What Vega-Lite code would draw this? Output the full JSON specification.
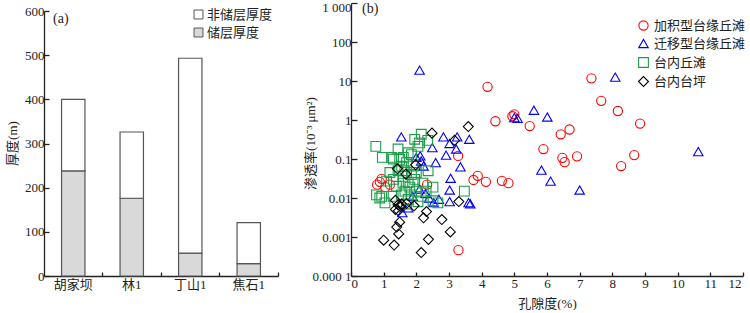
{
  "$schema": "https://vega.github.io/schema/vega-lite/v6.json",
  "padding": {"left": 6, "top": 1, "right": 0, "bottom": 0},
  "datasets": {
    "bars": [
      {"site": "胡家坝", "type": "储层厚度", "thickness": 238},
      {"site": "胡家坝", "type": "非储层厚度", "thickness": 162},
      {"site": "林1", "type": "储层厚度", "thickness": 176},
      {"site": "林1", "type": "非储层厚度", "thickness": 150},
      {"site": "丁山1", "type": "储层厚度", "thickness": 52},
      {"site": "丁山1", "type": "非储层厚度", "thickness": 441},
      {"site": "焦石1", "type": "储层厚度", "thickness": 28},
      {"site": "焦石1", "type": "非储层厚度", "thickness": 93}
    ],
    "pts": [
      {"group": "加积型台缘丘滩", "porosity": 3.28, "perm": 0.12},
      {"group": "加积型台缘丘滩", "porosity": 4.18, "perm": 7.1},
      {"group": "加积型台缘丘滩", "porosity": 4.42, "perm": 0.93},
      {"group": "加积型台缘丘滩", "porosity": 4.94, "perm": 1.25},
      {"group": "加积型台缘丘滩", "porosity": 5.0, "perm": 1.4},
      {"group": "加积型台缘丘滩", "porosity": 5.47, "perm": 0.7},
      {"group": "加积型台缘丘滩", "porosity": 5.89, "perm": 0.18},
      {"group": "加积型台缘丘滩", "porosity": 6.42, "perm": 0.43},
      {"group": "加积型台缘丘滩", "porosity": 6.69, "perm": 0.57},
      {"group": "加积型台缘丘滩", "porosity": 6.47, "perm": 0.107},
      {"group": "加积型台缘丘滩", "porosity": 6.54, "perm": 0.083},
      {"group": "加积型台缘丘滩", "porosity": 6.92, "perm": 0.117},
      {"group": "加积型台缘丘滩", "porosity": 7.36, "perm": 11.7},
      {"group": "加积型台缘丘滩", "porosity": 7.66, "perm": 3.1},
      {"group": "加积型台缘丘滩", "porosity": 8.17, "perm": 1.7},
      {"group": "加积型台缘丘滩", "porosity": 8.85, "perm": 0.81},
      {"group": "加积型台缘丘滩", "porosity": 8.67, "perm": 0.126},
      {"group": "加积型台缘丘滩", "porosity": 8.27, "perm": 0.066},
      {"group": "加积型台缘丘滩", "porosity": 3.88, "perm": 0.037},
      {"group": "加积型台缘丘滩", "porosity": 3.75, "perm": 0.029},
      {"group": "加积型台缘丘滩", "porosity": 4.13, "perm": 0.026},
      {"group": "加积型台缘丘滩", "porosity": 4.62, "perm": 0.0275},
      {"group": "加积型台缘丘滩", "porosity": 4.82, "perm": 0.024},
      {"group": "加积型台缘丘滩", "porosity": 3.29, "perm": 0.00046},
      {"group": "加积型台缘丘滩", "porosity": 0.8, "perm": 0.022},
      {"group": "加积型台缘丘滩", "porosity": 0.88, "perm": 0.026},
      {"group": "加积型台缘丘滩", "porosity": 0.94, "perm": 0.031},
      {"group": "加积型台缘丘滩", "porosity": 1.19, "perm": 0.022},
      {"group": "加积型台缘丘滩", "porosity": 2.33, "perm": 0.022},
      {"group": "加积型台缘丘滩", "porosity": 1.05, "perm": 0.019},
      {"group": "迁移型台缘丘滩", "porosity": 2.1, "perm": 19},
      {"group": "迁移型台缘丘滩", "porosity": 5.6, "perm": 1.78},
      {"group": "迁移型台缘丘滩", "porosity": 6.01, "perm": 1.19},
      {"group": "迁移型台缘丘滩", "porosity": 5.0, "perm": 1.15},
      {"group": "迁移型台缘丘滩", "porosity": 5.1, "perm": 1.1},
      {"group": "迁移型台缘丘滩", "porosity": 8.09, "perm": 12.6},
      {"group": "迁移型台缘丘滩", "porosity": 10.63, "perm": 0.155},
      {"group": "迁移型台缘丘滩", "porosity": 1.54, "perm": 0.37},
      {"group": "迁移型台缘丘滩", "porosity": 2.83, "perm": 0.37},
      {"group": "迁移型台缘丘滩", "porosity": 3.25, "perm": 0.37},
      {"group": "迁移型台缘丘滩", "porosity": 3.62, "perm": 0.32},
      {"group": "迁移型台缘丘滩", "porosity": 3.02, "perm": 0.25},
      {"group": "迁移型台缘丘滩", "porosity": 2.49, "perm": 0.195},
      {"group": "迁移型台缘丘滩", "porosity": 3.22, "perm": 0.18},
      {"group": "迁移型台缘丘滩", "porosity": 2.91, "perm": 0.126},
      {"group": "迁移型台缘丘滩", "porosity": 2.12, "perm": 0.12},
      {"group": "迁移型台缘丘滩", "porosity": 2.59, "perm": 0.081},
      {"group": "迁移型台缘丘滩", "porosity": 3.35, "perm": 0.063},
      {"group": "迁移型台缘丘滩", "porosity": 2.15, "perm": 0.089},
      {"group": "迁移型台缘丘滩", "porosity": 2.22, "perm": 0.066},
      {"group": "迁移型台缘丘滩", "porosity": 3.05, "perm": 0.032},
      {"group": "迁移型台缘丘滩", "porosity": 3.02, "perm": 0.016},
      {"group": "迁移型台缘丘滩", "porosity": 2.69, "perm": 0.0093},
      {"group": "迁移型台缘丘滩", "porosity": 3.02, "perm": 0.0081},
      {"group": "迁移型台缘丘滩", "porosity": 3.6, "perm": 0.0076},
      {"group": "迁移型台缘丘滩", "porosity": 3.65, "perm": 0.0071},
      {"group": "迁移型台缘丘滩", "porosity": 2.39, "perm": 0.01},
      {"group": "迁移型台缘丘滩", "porosity": 2.53, "perm": 0.0076},
      {"group": "迁移型台缘丘滩", "porosity": 5.83, "perm": 0.052},
      {"group": "迁移型台缘丘滩", "porosity": 6.11, "perm": 0.027},
      {"group": "迁移型台缘丘滩", "porosity": 7.0, "perm": 0.016},
      {"group": "迁移型台缘丘滩", "porosity": 1.57, "perm": 0.0042},
      {"group": "迁移型台缘丘滩", "porosity": 1.75, "perm": 0.0056},
      {"group": "迁移型台缘丘滩", "porosity": 2.1, "perm": 0.017},
      {"group": "迁移型台缘丘滩", "porosity": 2.28, "perm": 0.013},
      {"group": "迁移型台缘丘滩", "porosity": 1.89, "perm": 0.011},
      {"group": "迁移型台缘丘滩", "porosity": 2.0, "perm": 0.11},
      {"group": "台内丘滩", "porosity": 0.76, "perm": 0.21},
      {"group": "台内丘滩", "porosity": 0.96, "perm": 0.11},
      {"group": "台内丘滩", "porosity": 1.24, "perm": 0.11},
      {"group": "台内丘滩", "porosity": 1.44, "perm": 0.18},
      {"group": "台内丘滩", "porosity": 1.75, "perm": 0.145},
      {"group": "台内丘滩", "porosity": 1.95, "perm": 0.32},
      {"group": "台内丘滩", "porosity": 2.15, "perm": 0.43},
      {"group": "台内丘滩", "porosity": 2.35, "perm": 0.3},
      {"group": "台内丘滩", "porosity": 2.1, "perm": 0.26},
      {"group": "台内丘滩", "porosity": 1.49, "perm": 0.098},
      {"group": "台内丘滩", "porosity": 1.7, "perm": 0.081},
      {"group": "台内丘滩", "porosity": 1.9, "perm": 0.066},
      {"group": "台内丘滩", "porosity": 1.19, "perm": 0.045},
      {"group": "台内丘滩", "porosity": 1.09, "perm": 0.027},
      {"group": "台内丘滩", "porosity": 0.78, "perm": 0.012},
      {"group": "台内丘滩", "porosity": 0.94, "perm": 0.011},
      {"group": "台内丘滩", "porosity": 1.04, "perm": 0.0075},
      {"group": "台内丘滩", "porosity": 1.39, "perm": 0.02},
      {"group": "台内丘滩", "porosity": 1.59, "perm": 0.024},
      {"group": "台内丘滩", "porosity": 1.8, "perm": 0.019},
      {"group": "台内丘滩", "porosity": 2.0, "perm": 0.015},
      {"group": "台内丘滩", "porosity": 2.15, "perm": 0.011},
      {"group": "台内丘滩", "porosity": 2.51, "perm": 0.019},
      {"group": "台内丘滩", "porosity": 2.66, "perm": 0.0075},
      {"group": "台内丘滩", "porosity": 2.51, "perm": 0.0085},
      {"group": "台内丘滩", "porosity": 3.47, "perm": 0.015},
      {"group": "台内丘滩", "porosity": 1.29, "perm": 0.011},
      {"group": "台内丘滩", "porosity": 1.54, "perm": 0.012},
      {"group": "台内丘滩", "porosity": 1.75, "perm": 0.0093},
      {"group": "台内丘滩", "porosity": 1.95, "perm": 0.03},
      {"group": "台内丘滩", "porosity": 1.59, "perm": 0.036},
      {"group": "台内丘滩", "porosity": 1.44, "perm": 0.05},
      {"group": "台内丘滩", "porosity": 1.85, "perm": 0.04},
      {"group": "台内丘滩", "porosity": 2.2, "perm": 0.024},
      {"group": "台内丘滩", "porosity": 2.36, "perm": 0.05},
      {"group": "台内丘滩", "porosity": 0.88, "perm": 0.01},
      {"group": "台内丘滩", "porosity": 1.3, "perm": 0.1},
      {"group": "台内丘滩", "porosity": 1.6, "perm": 0.11},
      {"group": "台内丘滩", "porosity": 1.85, "perm": 0.13},
      {"group": "台内丘滩", "porosity": 2.05, "perm": 0.21},
      {"group": "台内丘滩", "porosity": 1.65, "perm": 0.015},
      {"group": "台内丘滩", "porosity": 1.75, "perm": 0.025},
      {"group": "台内丘滩", "porosity": 1.85, "perm": 0.012},
      {"group": "台内丘滩", "porosity": 2.0, "perm": 0.045},
      {"group": "台内丘滩", "porosity": 1.55, "perm": 0.065},
      {"group": "台内丘滩", "porosity": 1.3, "perm": 0.03},
      {"group": "台内丘滩", "porosity": 1.65, "perm": 0.05},
      {"group": "台内丘滩", "porosity": 2.3, "perm": 0.015},
      {"group": "台内丘滩", "porosity": 1.7, "perm": 0.007},
      {"group": "台内丘滩", "porosity": 2.05, "perm": 0.008},
      {"group": "台内台坪", "porosity": 2.48, "perm": 0.46},
      {"group": "台内台坪", "porosity": 3.17, "perm": 0.3},
      {"group": "台内台坪", "porosity": 3.59, "perm": 0.68},
      {"group": "台内台坪", "porosity": 1.42, "perm": 0.056},
      {"group": "台内台坪", "porosity": 1.68, "perm": 0.041},
      {"group": "台内台坪", "porosity": 1.98, "perm": 0.071},
      {"group": "台内台坪", "porosity": 1.36, "perm": 0.0087},
      {"group": "台内台坪", "porosity": 1.44, "perm": 0.0067},
      {"group": "台内台坪", "porosity": 1.55, "perm": 0.007},
      {"group": "台内台坪", "porosity": 1.36, "perm": 0.0051},
      {"group": "台内台坪", "porosity": 1.7, "perm": 0.0072},
      {"group": "台内台坪", "porosity": 1.93, "perm": 0.0063},
      {"group": "台内台坪", "porosity": 2.31, "perm": 0.0045},
      {"group": "台内台坪", "porosity": 2.22, "perm": 0.0031},
      {"group": "台内台坪", "porosity": 2.78, "perm": 0.0028},
      {"group": "台内台坪", "porosity": 3.04, "perm": 0.00135},
      {"group": "台内台坪", "porosity": 2.37, "perm": 0.00087},
      {"group": "台内台坪", "porosity": 2.15, "perm": 0.0004},
      {"group": "台内台坪", "porosity": 1.0, "perm": 0.00083},
      {"group": "台内台坪", "porosity": 1.32, "perm": 0.00062},
      {"group": "台内台坪", "porosity": 1.46, "perm": 0.0012},
      {"group": "台内台坪", "porosity": 1.49, "perm": 0.0024},
      {"group": "台内台坪", "porosity": 1.4, "perm": 0.0018},
      {"group": "台内台坪", "porosity": 3.3, "perm": 0.0081},
      {"group": "台内台坪", "porosity": 1.45, "perm": 0.0047},
      {"group": "台内台坪", "porosity": 1.52, "perm": 0.006}
    ]
  },
  "config": {
    "view": {"stroke": null},
    "axis": {
      "labelFont": "Liberation Serif",
      "labelFontSize": 13,
      "labelColor": "#222",
      "titleFont": "Liberation Serif, Noto Sans CJK SC",
      "titleFontSize": 13,
      "titleFontWeight": "normal",
      "titleColor": "#222",
      "domainColor": "#222",
      "tickColor": "#222",
      "domainWidth": 1.3,
      "tickWidth": 1.3,
      "grid": false
    },
    "legend": {
      "labelFont": "Noto Sans CJK SC",
      "labelFontSize": 13,
      "labelColor": "#222"
    }
  },
  "resolve": {
    "scale": {"color": "independent", "shape": "independent", "size": "independent"},
    "legend": {"color": "independent", "shape": "independent", "size": "independent"}
  },
  "spacing": 25,
  "hconcat": [
    {
      "width": 234,
      "height": 273,
      "data": {"name": "bars"},
      "title": {"text": "(a)", "anchor": "start", "frame": "group", "offset": -23, "dx": 9, "font": "Liberation Serif", "fontSize": 14, "fontWeight": "normal", "color": "#222"},
      "mark": {"type": "bar", "stroke": "#555", "strokeWidth": 1.2},
      "encoding": {
        "x": {
          "field": "site", "type": "nominal",
          "sort": ["胡家坝", "林1", "丁山1", "焦石1"],
          "scale": {"paddingInner": 0.6, "paddingOuter": 0.3},
          "axis": {"title": null, "labelAngle": 0, "bandPosition": 1.75, "tickSize": -4, "labelPadding": 6, "labelFont": "Liberation Serif, Noto Sans CJK SC"}
        },
        "y": {
          "field": "thickness", "type": "quantitative", "stack": "zero",
          "scale": {"domain": [0, 600], "nice": false, "range": [273, 8]},
          "axis": {"values": [0, 100, 200, 300, 400, 500, 600], "title": "厚度(m)", "tickSize": -5, "labelPadding": 5, "titleX": -24.5, "titleY": 140}
        },
        "color": {
          "field": "type", "type": "nominal",
          "scale": {"domain": ["非储层厚度", "储层厚度"], "range": ["#ffffff", "#d9d9d9"]},
          "legend": {"orient": "none", "legendX": 148, "legendY": 5, "title": null, "symbolType": "square", "symbolStrokeColor": "#555", "symbolStrokeWidth": 1, "symbolSize": 80, "rowPadding": 4, "labelOffset": 2}
        },
        "order": {"field": "type", "sort": "ascending"}
      }
    },
    {
      "width": 392,
      "height": 273,
      "data": {"name": "pts"},
      "title": {"text": "(b)", "anchor": "start", "frame": "group", "offset": -15, "dx": 11, "font": "Liberation Serif", "fontSize": 14, "fontWeight": "normal", "color": "#222"},
      "mark": {"type": "point", "filled": false, "strokeWidth": 1.1, "opacity": 1},
      "encoding": {
        "x": {
          "field": "porosity", "type": "quantitative",
          "scale": {"domain": [0, 12], "nice": false},
          "axis": {
            "values": [0, 1, 2, 3, 4, 5, 6, 7, 8, 9, 10, 11, 12],
            "labelOffset": {"condition": {"test": "datum.value >= 12", "value": -2}, "value": 0},
            "title": "孔隙度(%)", "tickSize": -4, "labelPadding": 5, "titlePadding": 7
          }
        },
        "y": {
          "field": "perm", "type": "quantitative",
          "scale": {"type": "log", "domain": [0.0001, 1000], "nice": false},
          "axis": {
            "values": [0.0001, 0.001, 0.01, 0.1, 1, 10, 100, 1000],
            "labelExpr": "datum.value >= 1000 ? '1 000' : datum.value < 0.0005 ? '0.000 1' : datum.value >= 1 ? format(datum.value, 'd') : format(datum.value, '')",
            "labelOffset": {"condition": {"test": "datum.value >= 1000", "value": 4}, "value": 0},
            "title": "渗透率(10⁻³ μm²)", "tickSize": -6, "labelPadding": 6, "titleX": -34, "titleY": 140
          }
        },
        "shape": {
          "field": "group", "type": "nominal",
          "scale": {"domain": ["加积型台缘丘滩", "迁移型台缘丘滩", "台内丘滩", "台内台坪"], "range": ["circle", "triangle-up", "square", "diamond"]},
          "legend": {"orient": "none", "legendX": 286, "legendY": 16, "title": null, "rowPadding": 4, "symbolStrokeWidth": 1.1}
        },
        "color": {
          "field": "group", "type": "nominal",
          "scale": {"domain": ["加积型台缘丘滩", "迁移型台缘丘滩", "台内丘滩", "台内台坪"], "range": ["#ff0000", "#0000ff", "#1a9e48", "#000000"]},
          "legend": {"orient": "none", "legendX": 286, "legendY": 16, "title": null, "rowPadding": 4, "symbolStrokeWidth": 1.1}
        },
        "size": {
          "field": "group", "type": "nominal",
          "scale": {"domain": ["加积型台缘丘滩", "迁移型台缘丘滩", "台内丘滩", "台内台坪"], "range": [85, 100, 100, 70]},
          "legend": null
        }
      }
    }
  ]
}
